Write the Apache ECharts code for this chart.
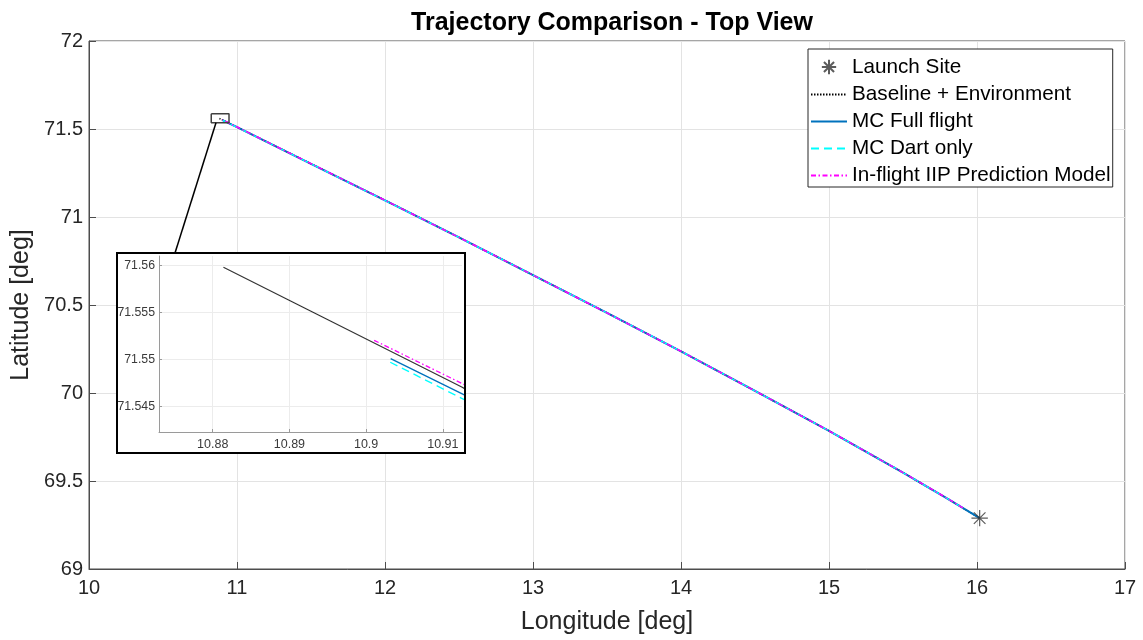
<!DOCTYPE html>
<html>
<head>
<meta charset="utf-8">
<script src="https://cdn.jsdelivr.net/npm/echarts@6/dist/echarts.min.js"></script>
<style>
  html, body { margin: 0; padding: 0; background: #fff; }
  #chart { width: 1143px; height: 640px; }
</style>
</head>
<body>
<div id="chart"></div>
<script>
// Launch position [lon, lat]
const launchSite = [16.018, 69.289];

// Baseline + Environment trajectory (ground track)
const baseLon = [16.018, 15.8, 15.5, 15, 14.5, 14, 13.5, 13, 12.5, 12, 11.5, 11, 10.95, 10.9124, 10.8814];
const baseLat = [69.289, 69.400, 69.548, 69.785, 70.012, 70.237, 70.455, 70.670, 70.884, 71.095, 71.303, 71.5112, 71.5317, 71.5471, 71.5598];

// MC Full flight
const fullLon = [16.018, 15.8, 15.5, 15, 14.5, 14, 13.5, 13, 12.5, 12, 11.5, 11, 10.95, 10.9124, 10.9032];
const fullLat = [69.289, 69.400, 69.548, 69.785, 70.012, 70.237, 70.455, 70.670, 70.884, 71.094, 71.302, 71.5105, 71.5310, 71.5464, 71.5501];

// MC Dart only
const dartLon = [15.905, 15.8, 15.5, 15, 14.5, 14, 13.5, 13, 12.5, 12, 11.5, 11, 10.95, 10.9124, 10.9027];
const dartLat = [69.347, 69.400, 69.548, 69.785, 70.012, 70.237, 70.455, 70.670, 70.884, 71.094, 71.302, 71.5100, 71.5305, 71.5459, 71.5499];

// In-flight IIP Prediction Model
const iipLon = [15.905, 15.8, 15.5, 15, 14.5, 14, 13.5, 13, 12.5, 12, 11.5, 11, 10.95, 10.9124, 10.9009];
const iipLat = [69.347, 69.401, 69.548, 69.785, 70.012, 70.237, 70.455, 70.670, 70.884, 71.095, 71.303, 71.5116, 71.5321, 71.5475, 71.5521];

// Zoom box around the impact region (main view) and inset axis ranges
const zoomBoxLon = [10.826, 10.946];
const zoomBoxLat = [71.535, 71.586];
const insetXRange = [10.873, 10.9125];
const insetYRange = [71.5423, 71.561];
const insetXTicks = [10.88, 10.89, 10.9, 10.91];
const insetYTicks = [71.545, 71.55, 71.555, 71.56];

const names = ['Launch Site', 'Baseline + Environment', 'MC Full flight', 'MC Dart only', 'In-flight IIP Prediction Model'];

const FONT = '"Liberation Sans", Arial, Helvetica, sans-serif';
const TXT = '#262626';

// Asterisk marker; the zero-length moves pad the path box so the legend icon stays small
const ASTERISK = 'path://M-14,-14L-14,-14M14,14L14,14M0,-10L0,10M-10,0L10,0M-7.07,-7.07L7.07,7.07M-7.07,7.07L7.07,-7.07';

function pairs(xs, ys) { return xs.map((x, i) => [x, ys[i]]); }

const trackStyles = [
  { name: names[1], lon: baseLon, lat: baseLat, color: '#000000', type: [1.5, 1.5], w: 1.5 },
  { name: names[2], lon: fullLon, lat: fullLat, color: '#0072BD', type: 'solid', w: 2 },
  { name: names[3], lon: dartLon, lat: dartLat, color: '#00FFFF', type: [8, 5], w: 1.5 },
  { name: names[4], lon: iipLon, lat: iipLat, color: '#FF00FF', type: [5, 2.5, 1.5, 2.5], w: 1.5 }
];

const series = [];
// main view tracks
trackStyles.forEach(s => series.push({
  name: s.name, type: 'line', xAxisIndex: 0, yAxisIndex: 0,
  data: pairs(s.lon, s.lat), symbol: 'none', z: 2,
  lineStyle: { color: s.color, width: s.w, type: s.type },
  itemStyle: { color: s.color }
}));
// launch marker
series.push({
  name: names[0], type: 'scatter', xAxisIndex: 0, yAxisIndex: 0,
  data: [launchSite], symbol: ASTERISK,
  symbolSize: 23, symbolKeepAspect: true, z: 3,
  itemStyle: { color: 'rgba(0,0,0,0)', borderColor: '#333333', borderWidth: 1.2 }
});
// zoom box
series.push({
  type: 'line', xAxisIndex: 0, yAxisIndex: 0, symbol: 'none', silent: true, z: 3,
  data: [[zoomBoxLon[0], zoomBoxLat[1]], [zoomBoxLon[1], zoomBoxLat[1]], [zoomBoxLon[1], zoomBoxLat[0]],
         [zoomBoxLon[0], zoomBoxLat[0]], [zoomBoxLon[0], zoomBoxLat[1]]],
  lineStyle: { color: '#404040', width: 1.5 }
});
// inset tracks
trackStyles.forEach(s => series.push({
  name: s.name, type: 'line', xAxisIndex: 1, yAxisIndex: 1,
  data: pairs(s.lon, s.lat), symbol: 'none', z: 8, clip: true,
  lineStyle: { color: s.color, width: s.name === names[1] ? 1.2 : 1.3, type: s.name === names[1] ? 'solid' : s.type, opacity: s.name === names[1] ? 0.8 : 1 },
  itemStyle: { color: s.color }
}));

const legendData = names.map((n, i) => i === 0 ? { name: n } : { name: n, itemStyle: { opacity: 0 } });

const option = {
  animation: false,
  backgroundColor: '#ffffff',
  title: {
    text: 'Trajectory Comparison - Top View',
    left: 607, textAlign: 'center', top: 6,
    textStyle: { fontFamily: FONT, fontSize: 25, fontWeight: 'bold', color: '#000' }
  },
  legend: {
    data: legendData,
    orient: 'vertical',
    left: 808, top: 49,
    padding: [7, 2, 1, 2],
    itemWidth: 36, itemHeight: 20, itemGap: 6,
    backgroundColor: '#fff',
    borderColor: '#262626', borderWidth: 1, borderRadius: 0,
    textStyle: { fontFamily: FONT, fontSize: 20.7, color: '#000', lineHeight: 20 },
    selectedMode: false
  },
  grid: [
    { left: 89, top: 41, width: 1036, height: 529, show: true, borderColor: '#4d4d4d', borderWidth: 1, backgroundColor: '#fff' },
    { left: 159, top: 256, width: 303, height: 176, show: false, z: 6 }
  ],
  xAxis: [
    {
      gridIndex: 0, type: 'value', min: 10, max: 17, interval: 1,
      name: 'Longitude [deg]', nameLocation: 'middle', nameGap: 41,
      nameTextStyle: { fontFamily: FONT, fontSize: 25, color: TXT },
      axisLine: { lineStyle: { color: '#4d4d4d', width: 1 } },
      axisTick: { inside: true, length: 7, lineStyle: { color: '#4d4d4d' } },
      axisLabel: { fontFamily: FONT, fontSize: 20, color: TXT, margin: 9 },
      splitLine: { show: true, lineStyle: { color: '#e3e3e3', width: 1 } }
    },
    {
      gridIndex: 1, type: 'value', min: insetXRange[0], max: insetXRange[1], z: 7,
      axisLine: { onZero: false, lineStyle: { color: '#9a9a9a', width: 1 } },
      axisTick: { inside: true, length: 3, customValues: insetXTicks, lineStyle: { color: '#9a9a9a' } },
      axisLabel: { customValues: insetXTicks, fontFamily: FONT, fontSize: 12.5, color: '#3a3a3a', margin: 6,
                   formatter: v => String(+v.toFixed(3)) },
      splitLine: { show: true, lineStyle: { color: '#ececec', width: 1 } }
    }
  ],
  yAxis: [
    {
      gridIndex: 0, type: 'value', min: 69, max: 72, interval: 0.5,
      name: 'Latitude [deg]', nameLocation: 'middle', nameGap: 54, nameRotate: 90,
      nameTextStyle: { fontFamily: FONT, fontSize: 25, color: TXT },
      axisLine: { show: true, lineStyle: { color: '#4d4d4d', width: 1 } },
      axisTick: { show: true, inside: true, length: 7, lineStyle: { color: '#4d4d4d' } },
      axisLabel: { fontFamily: FONT, fontSize: 20, color: TXT, margin: 6 },
      splitLine: { show: true, lineStyle: { color: '#e3e3e3', width: 1 } }
    },
    {
      gridIndex: 1, type: 'value', min: insetYRange[0], max: insetYRange[1], z: 7,
      axisLine: { show: true, onZero: false, lineStyle: { color: '#9a9a9a', width: 1 } },
      axisTick: { show: true, inside: true, length: 3, customValues: insetYTicks, lineStyle: { color: '#9a9a9a' } },
      axisLabel: { customValues: insetYTicks, fontFamily: FONT, fontSize: 12.3, color: '#3a3a3a', margin: 4,
                   formatter: v => String(+v.toFixed(3)) },
      splitLine: { show: true, lineStyle: { color: '#ececec', width: 1 } }
    }
  ],
  series: series
};

const chart = echarts.init(document.getElementById('chart'), null, { renderer: 'canvas' });
chart.setOption(option);

// Inset frame and the leader line from the zoom box down to it
const frame = { x: 117, y: 253, w: 348, h: 200 };
const corner = chart.convertToPixel({ gridIndex: 0 }, [10.858, zoomBoxLat[0]]);
chart.setOption({
  graphic: [
    { type: 'rect', z: 5, shape: { x: frame.x, y: frame.y, width: frame.w, height: frame.h },
      style: { fill: '#ffffff', stroke: '#000000', lineWidth: 2 } },
    { type: 'line', z: 5, shape: { x1: corner[0], y1: corner[1], x2: 175, y2: frame.y },
      style: { stroke: '#000000', lineWidth: 1.5 } }
  ]
});
</script>
</body>
</html>
